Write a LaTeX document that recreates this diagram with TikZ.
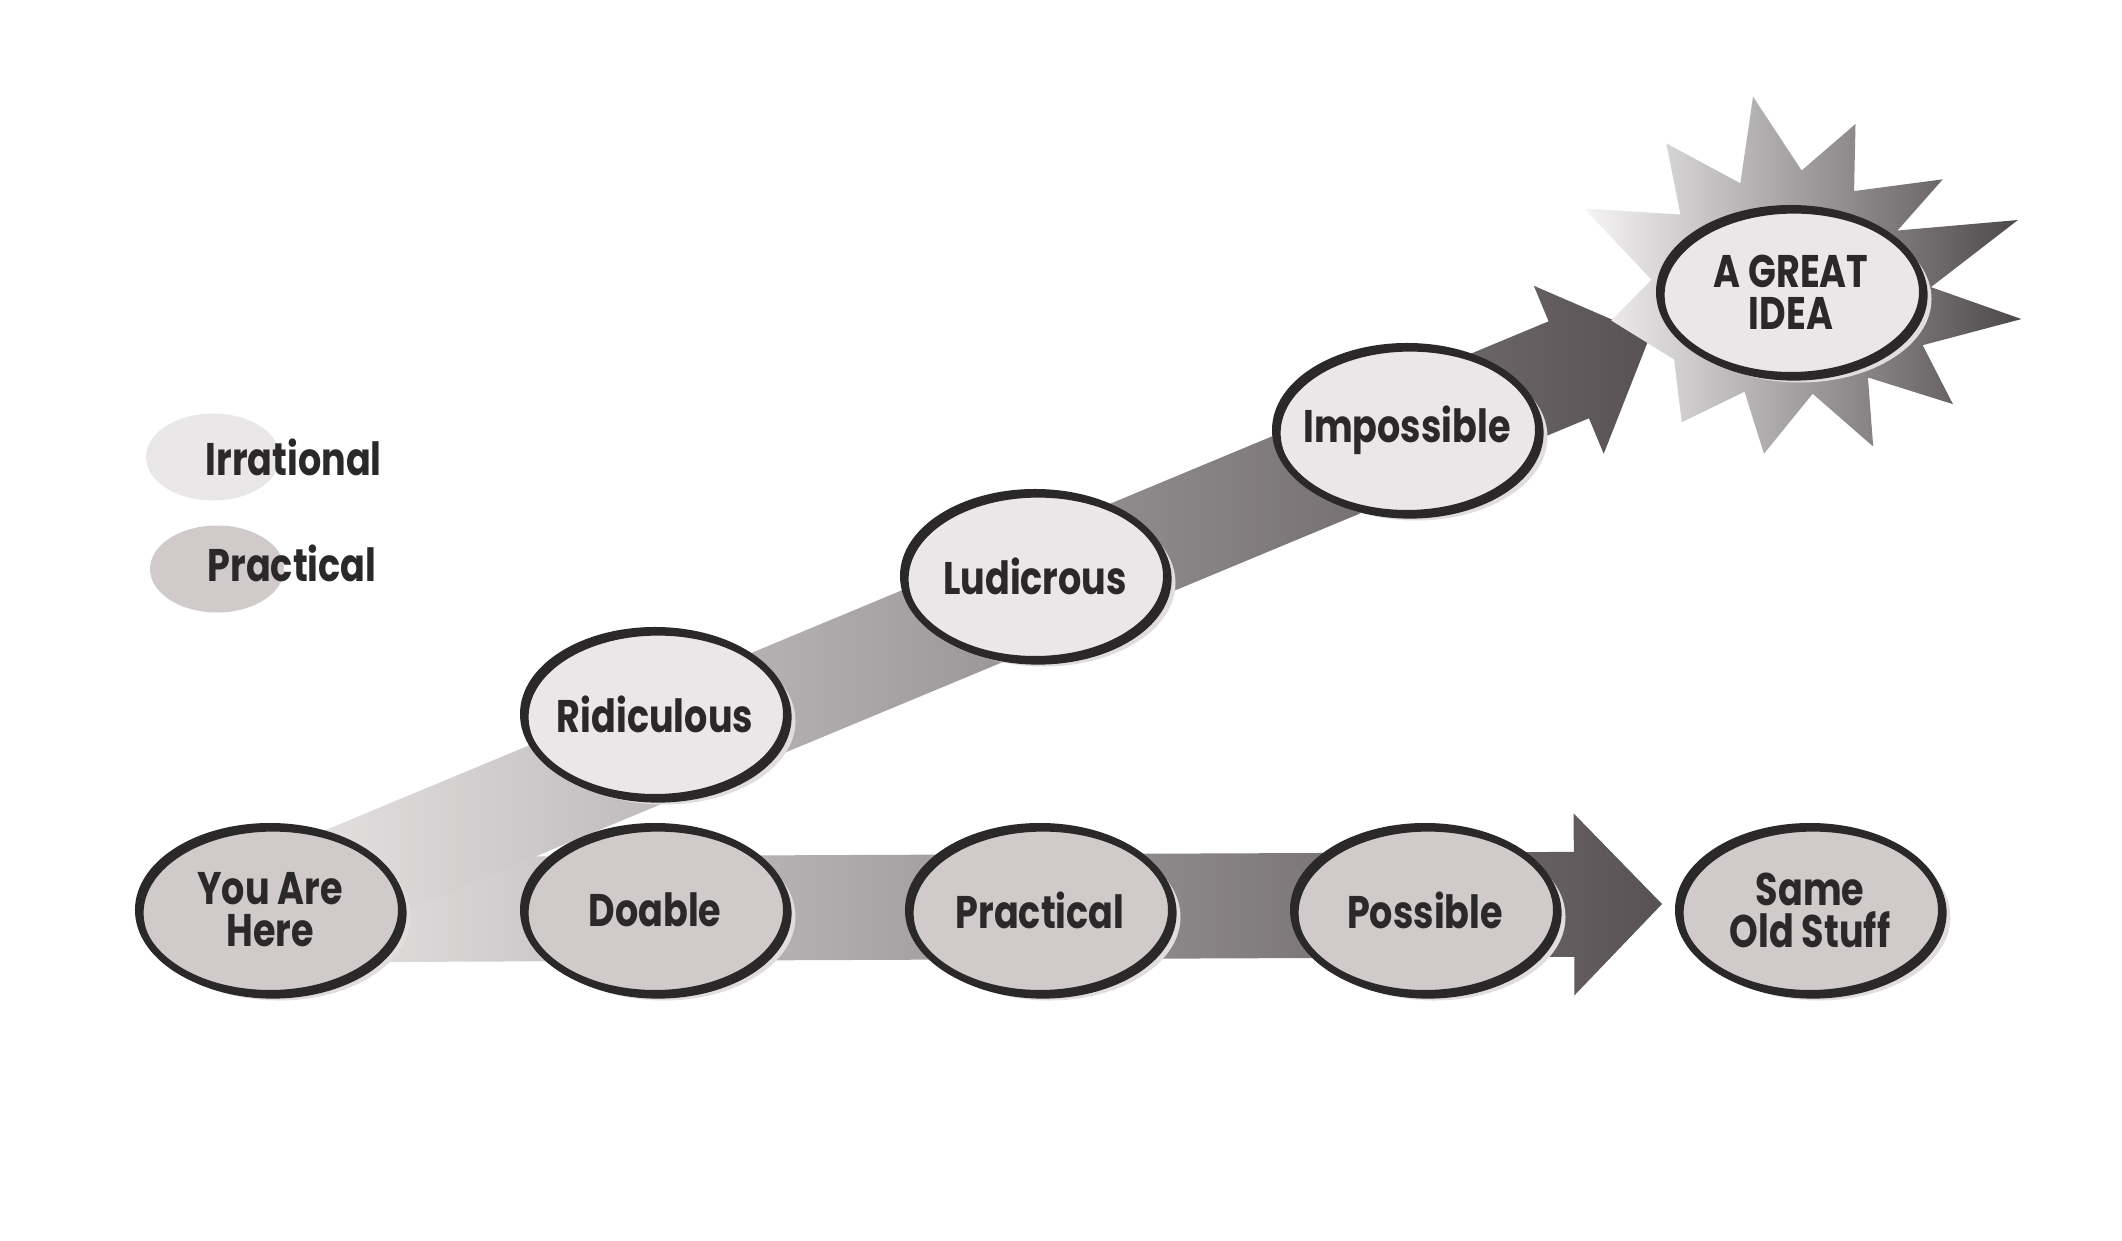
\documentclass[tikz,border=0pt]{standalone}
\usepackage{fontspec}
\newfontfamily\ideafont{Poppins}[FakeStretch=0.80]
\usetikzlibrary{calc,positioning,shapes.geometric,shadows,backgrounds}
\definecolor{ink}{RGB}{42,40,41}
\definecolor{paper}{RGB}{209,202,203}
\colorlet{irrational}{paper!45!white}
\colorlet{practical}{paper}
\colorlet{shadowgray}{paper!65!white}
\definecolor{arrowlight}{RGB}{234,230,230}
\definecolor{arrowdark}{RGB}{88,82,84}
\definecolor{burstlight}{RGB}{246,244,244}
\definecolor{burstdark}{RGB}{76,71,73}
\newcommand{\bigarrow}[2]{%
  \coordinate (#2 base) at ($(#2)!0.88cm!(#1.center)$);
  \shade [fat arrow] ($(#1.center)!0.525cm!90:(#2)$) -- ($(#2 base)!0.525cm!-90:(#1.center)$)
    -- ($(#2 base)!0.91cm!-90:(#1.center)$) -- (#2) -- ($(#2 base)!0.91cm!90:(#1.center)$)
    -- ($(#2 base)!0.525cm!90:(#1.center)$) -- ($(#1.center)!0.525cm!-90:(#2)$) -- cycle;}

\begin{document}
\begin{tikzpicture}[
    idea step/.style={ellipse, draw=ink, line width=2pt, minimum width=2.63cm, minimum height=1.67cm, inner xsep=-0.45cm, inner ysep=0pt, align=center, text=ink, font=\ideafont\bfseries\fontsize{13pt}{12pt}\selectfont, drop shadow={shadow xshift=0.09cm, shadow yshift=-0.07cm, fill=shadowgray, opacity=1}, postaction={draw=ink, line width=1.2pt, transform canvas={shift={(0.03,-0.03)}}}},
    irrational step/.style={idea step, fill=irrational},
    practical step/.style={idea step, fill=practical},
    legend blob/.style={ellipse, minimum width=1.34cm, minimum height=0.87cm, inner sep=0pt},
    legend label/.style={anchor=west, inner sep=0pt, text=ink, font=\ideafont\bfseries\fontsize{13pt}{12pt}\selectfont},
    fat arrow/.style={left color=arrowlight, right color=arrowdark},
    burst/.style={left color=burstlight, right color=burstdark}
  ]
  \useasboundingbox (0,0) rectangle (21.22,12.40);
  \node [legend blob, fill=irrational] (irrational blob) at (2.13,7.83) {};
  \node [legend label] (irrational label) at (2.05,7.83) {Irrational};
  \node [legend blob, fill=practical] (practical blob) at (2.17,6.71) {};
  \node [legend label] (practical label) at (2.07,6.77) {Practical};

  \begin{scope}[node distance=3.85cm]
  \node [practical step] at (2.70,3.30) (here) {You Are\\Here};
  \node [practical step, right of=here] (doable) {Doable};
  \node [practical step, right of=doable] (practical) {Practical};
  \node [practical step, right of=practical] (possible) {Possible};
  \node [practical step, right of=possible] (same) {Same\\Old Stuff};
  \node [irrational step, above of=doable, node distance=1.96cm] (ridiculous) {Ridiculous};
  \node [irrational step, right of=ridiculous, yshift=1.38cm, node distance=3.8cm] (ludicrous) {Ludicrous};
  \node [irrational step, right of=ludicrous, yshift=1.46cm, node distance=3.72cm] (impossible) {Impossible};
  \node [irrational step, right of=impossible, yshift=1.38cm, node distance=3.84cm] (idea) {A GREAT\\IDEA};
  \end{scope}
  \coordinate (idea tip) at (16.50,9.04);
  \coordinate (same tip) at (16.62,3.36);

  \begin{scope}[on background layer]
  \bigarrow{here}{same tip}
  \bigarrow{here}{idea tip}
  % starburst behind the great idea
  \shade [burst, shift={(idea.center)}] (101:1.99) -- (85:1.22) -- (69:1.80) -- (58:1.19)
    -- (36.6:1.89) -- (30:1.23) -- (17.6:2.38) -- (2:1.40) -- (-6.7:2.32) -- (-22:1.42)
    -- (-34.7:1.97) -- (-48:1.15) -- (-62:1.75) -- (-78:1.04) -- (-99.5:1.64) -- (-115:1.10)
    -- (-130:1.70) -- (-150:1.35) -- (-171:1.82) -- (175:1.40) -- (158:2.23) -- (145:1.35)
    -- (130:1.94) -- (115:1.20) -- cycle;
  \end{scope}
\end{tikzpicture}
\end{document}
